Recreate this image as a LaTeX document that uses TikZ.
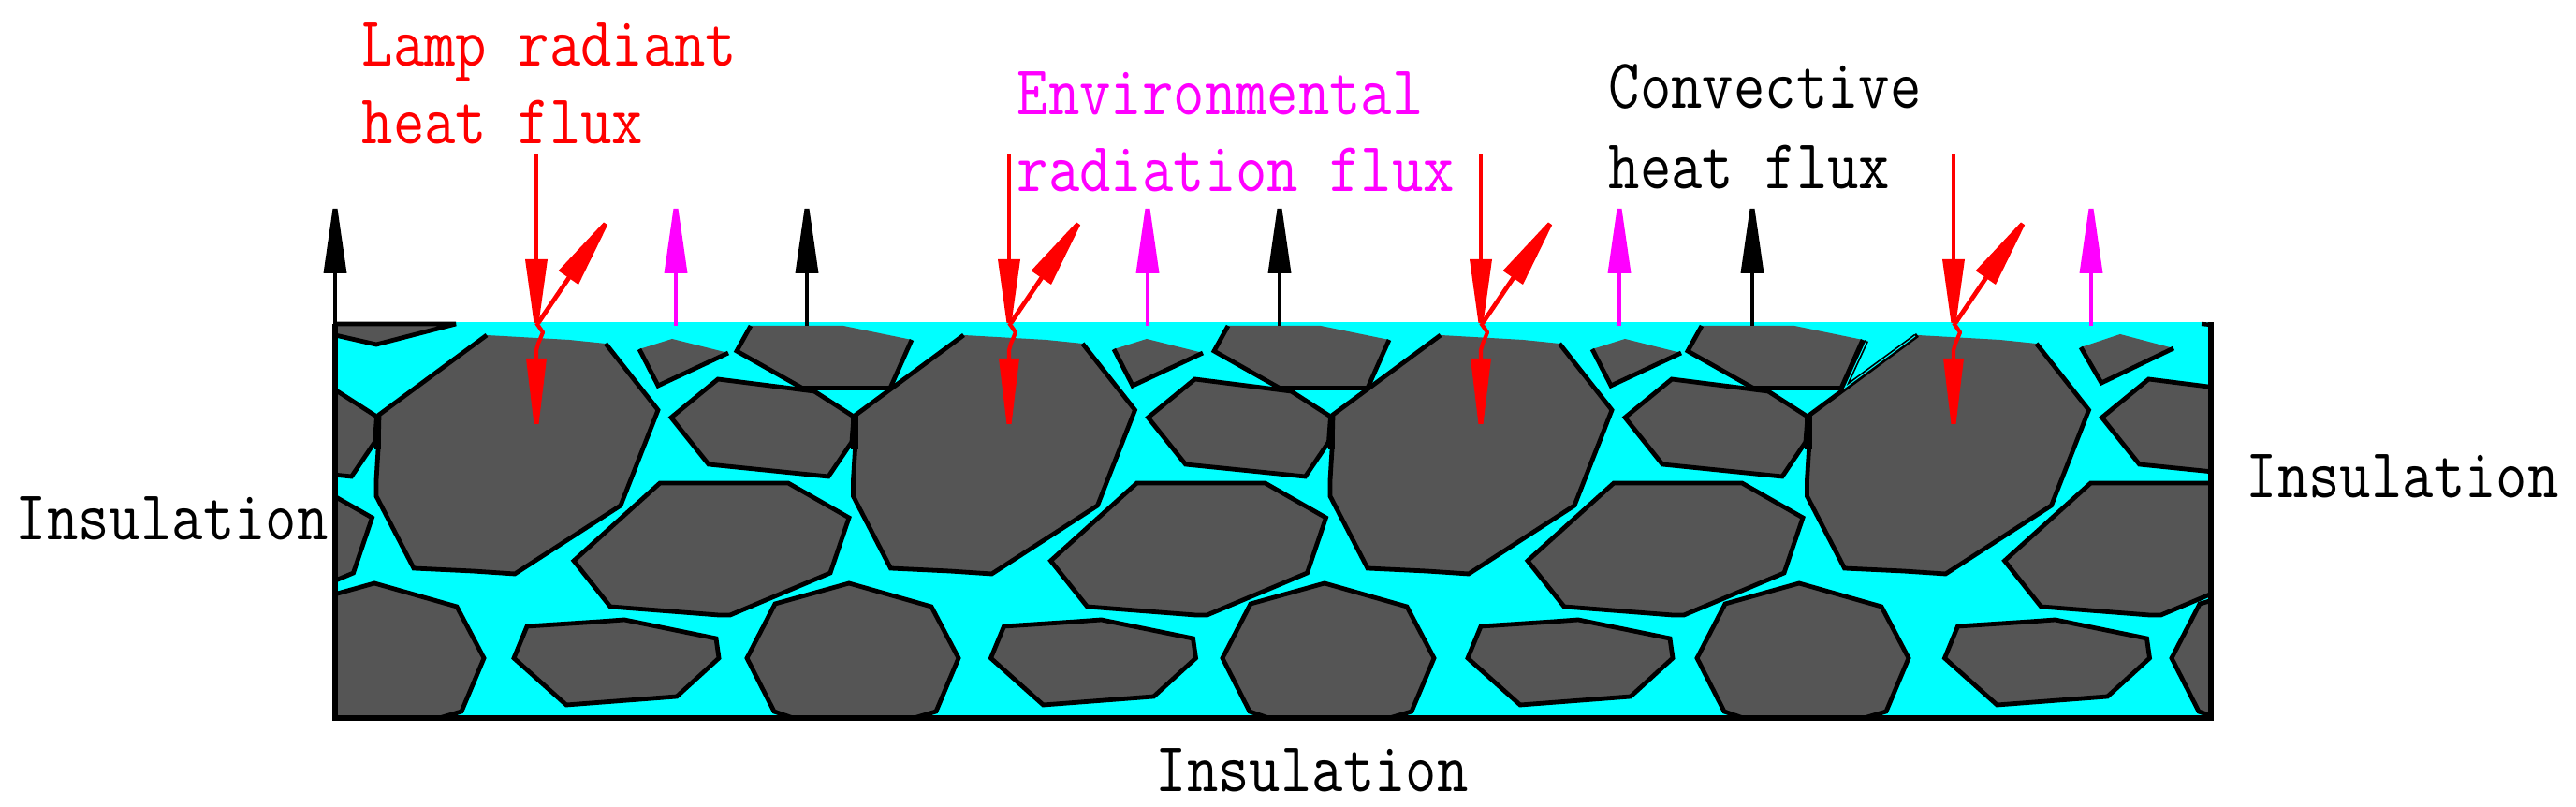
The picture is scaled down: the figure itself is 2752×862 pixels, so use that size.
\documentclass[tikz,border=0pt]{standalone}
\usepackage{fontspec}
\definecolor{grainc}{HTML}{555555}
\definecolor{matrixc}{HTML}{00FFFF}
\definecolor{redc}{HTML}{FF0000}
\definecolor{magc}{HTML}{FF00FF}
\newcommand\lbl[1]{\scalebox{1}[1.16]{\ttfamily\fontsize{16.2}{18}\selectfont #1}}
% blunt flux arrowhead: tip at #1, rotated by #2, colour #3, half width #4, length #5
\newcommand\fluxhead[5]{\fill[#3,shift={(#1)},rotate=#2] (-2.5,0)--(2.5,0)--(#4,#5)--(-#4,#5)--cycle;}
\tikzset{
  x=0.25pt,y=-0.25pt,
  grainfill/.style={fill=grainc},
  grainline/.style={draw=black,line width=1.2pt,line join=miter,miter limit=3},
  border/.style={draw=black,line width=1.3pt},
  shaft/.style={line width=1.2pt},
  wiggle/.style={draw=redc,line width=1.05pt,line join=round},
  lab/.style={inner sep=0pt,anchor=base west},
}
\begin{document}
\begin{tikzpicture}
\useasboundingbox (0,0) rectangle (2752,862);
\fill[white] (0,0) rectangle (2752,862);
\fill[matrixc] (358,344) rectangle (2362,767);
\begin{scope}
\clip (358,344) rectangle (2362,767);
% corner fragment
\filldraw[grainfill,grainline] (358,346)--(487,346)--(402,368)--(358,358)--cycle;
% small wedge grains
\foreach \dx in {0,507,1018}{
  \begin{scope}[shift={(\dx,0)}]
  \fill[grainfill] (683,373)--(718,362)--(778,377)--(703,412)--cycle;
  \draw[grainline] (778,377)--(703,412)--(683,373);
  \end{scope}
}
\fill[grainfill] (2223,371)--(2265,357)--(2322,372)--(2245,409)--cycle;
\draw[grainline] (2322,372)--(2245,409)--(2223,371);
% middle row elongated grains
\foreach \dx in {-509.5,0,509.5,1019,1528.5}{
  \begin{scope}[shift={(\dx,0)}]
  \filldraw[grainfill,grainline] (767,405)--(870,418)--(912,445)--(910,472)--(885,509)--(757,496)--(717,446)--cycle;
  \filldraw[grainfill,grainline] (705,516)--(842,516)--(907,553)--(887,612)--(780,657)--(768,657)--(652,648)--(613,599)--cycle;
  \end{scope}
}
% top flat grains
\foreach \dx in {0,510,1016}{
  \begin{scope}[shift={(\dx,0)}]
  \fill[grainfill] (802,348)--(901,348)--(974,363)--(951,414.5)--(857,414.5)--(787,375)--cycle;
  \draw[grainline] (974,363)--(951,414.5)--(857,414.5)--(787,375)--(802,348);
  \end{scope}
}
% large grains
\foreach \dx in {0,509.5,1019,1528.5}{
  \begin{scope}[shift={(\dx,0)}]
  \fill[grainfill] (520,358)--(608,363)--(647,367)--(703,438)--(663,540)--(550,613)--(505,610)--(442,607)--(402,530)--(402,513)--(404,480)--(405,443)--cycle;
  \draw[grainline] (647,367)--(703,438)--(663,540)--(550,613)--(505,610)--(442,607)--(402,530)--(402,513)--(404,480)--(405,443)--(520,358);
  \draw[black,line width=1.9pt] (403.5,446)--(403.5,480);
  \end{scope}
}
% bottom row
\foreach \dx in {-507,0,508,1015,1522}{
  \begin{scope}[shift={(\dx,0)}]
  \filldraw[grainfill,grainline] (798,703)--(828,645)--(907,623)--(995,648)--(1024,703)--(1000,760)--(973,768)--(850,768)--(827,760)--cycle;
  \end{scope}
}
\foreach \dx in {0,509.5,1019,1528.5}{
  \begin{scope}[shift={(\dx,0)}]
  \filldraw[grainfill,grainline] (563,669)--(640,664)--(667,662)--(765,682)--(768,703)--(723,744)--(605,753)--(549,703)--cycle;
  \end{scope}
}
% crack in the last large grain
\draw[black,line width=1.1pt,line join=miter] (1994,364)--(1971,414)--(2046,359);
\draw[matrixc,line width=0.25pt,line join=miter] (1994,364)--(1971,414)--(2046,359);
\end{scope}
% insulated border
\draw[border] (358,346)--(358,767)--(2362,767)--(2362,344);
\draw[black,line width=1.1pt] (2352,346)--(2362,347);
% outgoing arrows
\foreach \n/\x/\c in {a/358/black,b/722/magc,c/862/black,d/1226/magc,e/1367/black,f/1730/magc,g/1872/black,h/2234/magc}{
  \coordinate (ub\n) at (\x,348);
  \coordinate (ut\n) at (\x,223);
  \draw[shaft,draw=\c] (ub\n)--(ut\n);
  \fluxhead{ut\n}{0}{\c}{12.5}{69}
}
% incident, absorbed and reflected lamp flux
\foreach \n/\dx in {a/0,b/505,c/1009,d/1514}{
  \coordinate (dt\n) at (573+\dx,165);
  \coordinate (db\n) at (573+\dx,345);
  \coordinate (rt\n) at (647+\dx,239);
  \coordinate (rb\n) at (575+\dx,345);
  \coordinate (w1\n) at (580+\dx,355);
  \coordinate (w2\n) at (575+\dx,367);
  \coordinate (w3\n) at (573+\dx,374);
  \coordinate (we\n) at (573+\dx,453);
  \draw[shaft,draw=redc] (dt\n)--(db\n);
  \draw[shaft,draw=redc] (rb\n)--(rt\n);
  \draw[wiggle] (db\n)--(w1\n)--(w2\n)--(w3\n)--(we\n);
  \fluxhead{db\n}{180}{redc}{12}{68}
  \fluxhead{rt\n}{-34.6}{redc}{13}{70}
  \fluxhead{we\n}{180}{redc}{11}{70}
}
% labels
\node[lab,text=redc] (lamp1) at (386,71) {\lbl{Lamp radiant}};
\node[lab,text=redc] (lamp2) at (386,154) {\lbl{heat flux}};
\node[lab,text=magc] (env1) at (1086,123) {\lbl{Environmental}};
\node[lab,text=magc] (env2) at (1086,205) {\lbl{radiation flux}};
\node[lab] (conv1) at (1718,116) {\lbl{Convective}};
\node[lab] (conv2) at (1718,202) {\lbl{heat flux}};
\node[lab] (insl) at (16,577) {\lbl{Insulation}};
\node[lab] (insr) at (2399,532) {\lbl{Insulation}};
\node[lab] (insb) at (1234,846) {\lbl{Insulation}};
\end{tikzpicture}
\end{document}
